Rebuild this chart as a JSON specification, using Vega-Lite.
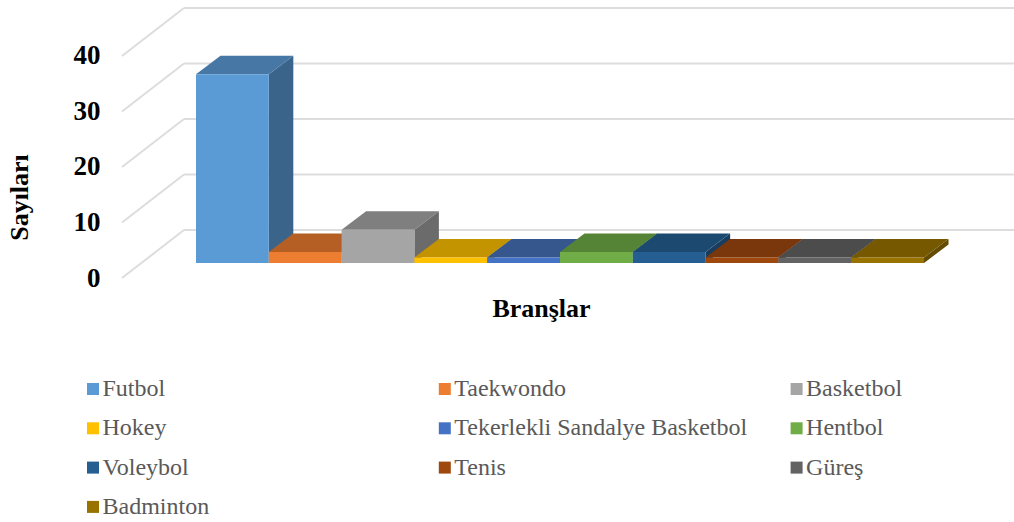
{"$schema":"https://vega.github.io/schema/vega-lite/v6.json","width":892,"height":278,"autosize":"none","padding":{"left":122,"top":0,"right":0,"bottom":244},"background":"white","config":{"view":{"stroke":null},"font":"Liberation Serif","axis":{"grid":false,"domain":false,"ticks":false}},"datasets":{"bars":[{"b":"Futbol","v":34,"i":0},{"b":"Taekwondo","v":2,"i":1},{"b":"Basketbol","v":6,"i":2},{"b":"Hokey","v":1,"i":3},{"b":"Tekerlekli Sandalye Basketbol","v":1,"i":4},{"b":"Hentbol","v":2,"i":5},{"b":"Voleybol","v":2,"i":6},{"b":"Tenis","v":1,"i":7},{"b":"Güreş","v":1,"i":8},{"b":"Badminton","v":1,"i":9}],"grid":[{"v":0},{"v":10},{"v":20},{"v":30},{"v":40}]},"layer":[{"data":{"name":"grid"},"transform":[{"calculate":"0","as":"gx0"},{"calculate":"0.8516","as":"gx1"},{"calculate":"datum.v+8.649","as":"gy1"}],"mark":{"type":"rule","color":"#DDDDDD","strokeWidth":2},"encoding":{"x":{"field":"gx0","type":"quantitative","scale":{"domain":[0,12.2527],"nice":false,"zero":false},"axis":{"title":"Branşlar","labels":false,"ticks":false,"domain":false,"grid":false,"titleFontSize":26,"titleFontWeight":"bold","titleColor":"#000000","titleFont":"Liberation Serif","titleX":419,"titleY":30,"titleBaseline":"middle","titleAlign":"center"}},"x2":{"field":"gx1"},"y":{"field":"v","type":"quantitative","scale":{"domain":[0,50.09],"nice":false,"zero":false},"axis":{"title":"Sayıları","values":[0,10,20,30,40],"ticks":false,"domain":false,"grid":false,"labelFontSize":27,"labelFontWeight":"bold","labelColor":"#000000","labelFont":"Liberation Serif","labelPadding":22,"titleFontSize":26,"titleFontWeight":"bold","titleColor":"#000000","titleFont":"Liberation Serif","titleX":-103,"titleY":197,"titleBaseline":"middle","titleAlign":"center"}},"y2":{"field":"gy1"}}},{"data":{"name":"grid"},"transform":[{"calculate":"0.8516","as":"gx1"},{"calculate":"12.2527","as":"gx2"},{"calculate":"datum.v+8.649","as":"gy1"}],"mark":{"type":"rule","color":"#DDDDDD","strokeWidth":2},"encoding":{"x":{"field":"gx1","type":"quantitative"},"x2":{"field":"gx2"},"y":{"field":"gy1","type":"quantitative"}}},{"data":{"name":"bars"},"transform":[{"calculate":"[0,1]","as":"k"},{"flatten":["k"]},{"calculate":"2.0165+datum.i+datum.k*0.3365","as":"sx"},{"calculate":"2.703+datum.k*3.333","as":"sy0"},{"calculate":"2.703+datum.v+datum.k*3.333","as":"sy1"}],"mark":{"type":"area"},"encoding":{"x":{"field":"sx","type":"quantitative"},"y":{"field":"sy1","type":"quantitative","stack":null},"y2":{"field":"sy0"},"detail":{"field":"b"},"color":{"field":"b","type":"nominal","legend":null,"sort":null,"scale":{"domain":["Futbol","Taekwondo","Basketbol","Hokey","Tekerlekli Sandalye Basketbol","Hentbol","Voleybol","Tenis","Güreş","Badminton"],"range":["#3A6489","#9A5120","#6B6B6B","#A67D00","#2C4A7F","#49702E","#183D5E","#672F09","#404040","#634B00"]}}}},{"data":{"name":"bars"},"transform":[{"calculate":"[0,1]","as":"k"},{"flatten":["k"]},{"calculate":"1.0165+datum.i+datum.k*0.3365","as":"tx0"},{"calculate":"2.0165+datum.i+datum.k*0.3365","as":"tx1"},{"calculate":"2.703+datum.v+datum.k*3.333","as":"ty"}],"mark":{"type":"area","orient":"horizontal"},"encoding":{"y":{"field":"ty","type":"quantitative"},"x":{"field":"tx1","type":"quantitative","stack":null},"x2":{"field":"tx0"},"detail":{"field":"b"},"color":{"field":"b","type":"nominal","legend":null,"sort":null,"scale":{"domain":["Futbol","Taekwondo","Basketbol","Hokey","Tekerlekli Sandalye Basketbol","Hentbol","Voleybol","Tenis","Güreş","Badminton"],"range":["#4677A5","#B65F25","#7F7F7F","#C49300","#35578E","#568436","#1C4970","#7A370B","#4C4C4C","#755800"]}}}},{"data":{"name":"bars"},"transform":[{"calculate":"1.0165+datum.i","as":"fx0"},{"calculate":"2.0165+datum.i","as":"fx1"},{"calculate":"2.703","as":"fy0"},{"calculate":"2.703+datum.v","as":"fy1"}],"mark":{"type":"rect"},"encoding":{"x":{"field":"fx0","type":"quantitative"},"x2":{"field":"fx1"},"y":{"field":"fy0","type":"quantitative"},"y2":{"field":"fy1"},"color":{"field":"b","type":"nominal","sort":null,"scale":{"domain":["Futbol","Taekwondo","Basketbol","Hokey","Tekerlekli Sandalye Basketbol","Hentbol","Voleybol","Tenis","Güreş","Badminton"],"range":["#5B9BD5","#ED7D31","#A5A5A5","#FFC000","#4472C4","#70AD47","#255E91","#9E480E","#636363","#997300"]},"legend":{"title":null,"orient":"none","direction":"horizontal","legendX":-41,"legendY":377,"columns":3,"gridAlign":"all","symbolType":"square","symbolSize":144,"symbolStrokeWidth":0,"labelFontSize":24,"labelColor":"#595959","labelFont":"Liberation Serif","labelLimit":400,"labelOffset":-2.5,"columnPadding":36.8,"rowPadding":15.3,"padding":0}}}}],"resolve":{"scale":{"color":"independent"}}}
